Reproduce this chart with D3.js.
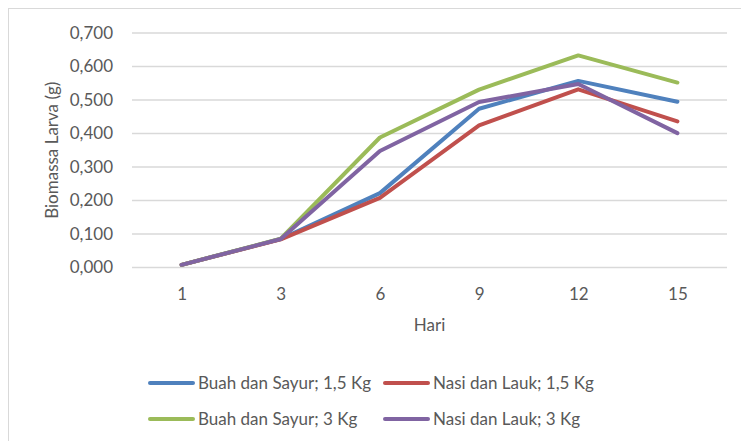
<!DOCTYPE html>
<html>
<head>
<meta charset="utf-8">
<script src="https://cdn.jsdelivr.net/npm/d3@7"></script>
<style>
  body { margin: 0; background: #fff; }
  svg text { font-family: Lato, "Open Sans", sans-serif; fill: #595959; }
</style>
</head>
<body>
<script>
// hari pengamatan
const days = ["1", "3", "6", "9", "12", "15"];

const seriesNames = [
  "Buah dan Sayur; 1,5 Kg",
  "Nasi dan Lauk; 1,5 Kg",
  "Buah dan Sayur; 3 Kg",
  "Nasi dan Lauk; 3 Kg"
];

const buahSayur15 = [0.008, 0.085, 0.222, 0.474, 0.557, 0.495];
const nasiLauk15 = [0.008, 0.084, 0.208, 0.424, 0.532, 0.436];
const buahSayur3 = [0.008, 0.086, 0.388, 0.531, 0.633, 0.552];
const nasiLauk3 = [0.008, 0.085, 0.348, 0.494, 0.548, 0.401];

const yTicks = [0, 0.1, 0.2, 0.3, 0.4, 0.5, 0.6, 0.7];

const colors = ["#4f81bd", "#c0504d", "#9bbb59", "#8064a2"];

const series = [buahSayur15, nasiLauk15, buahSayur3, nasiLauk3].map((values, i) => ({
  name: seriesNames[i],
  color: colors[i],
  values
}));

const width = 741,
  height = 441;
const margin = { top: 33, right: 14, bottom: 174, left: 132 };

const svg = d3
  .select("body")
  .append("svg")
  .attr("width", width)
  .attr("height", height);

// chart border
svg
  .append("rect")
  .attr("x", 8.5)
  .attr("y", 8.5)
  .attr("width", width + 20)
  .attr("height", height + 20)
  .attr("fill", "none")
  .attr("stroke", "#d9d9d9")
  .attr("stroke-width", 1);

const x = d3
  .scalePoint()
  .domain(days)
  .range([margin.left, width - margin.right])
  .padding(0.5);

const y = d3
  .scaleLinear()
  .domain([0, 0.7])
  .range([height - margin.bottom + 0.5, margin.top]);

const fmt = d => d3.format(".3f")(d).replace(".", ",");

// gridlines
svg
  .append("g")
  .selectAll("line")
  .data(yTicks)
  .join("line")
  .attr("x1", margin.left)
  .attr("x2", width - margin.right)
  .attr("y1", d => y(d))
  .attr("y2", d => y(d))
  .attr("stroke", "#d9d9d9")
  .attr("stroke-width", 1.3);

const yAxis = svg
  .append("g")
  .attr("transform", `translate(${margin.left - 19},0)`)
  .call(d3.axisLeft(y).tickValues(yTicks).tickFormat(fmt).tickSize(0));
yAxis.select(".domain").remove();
yAxis.selectAll("text").style("font-size", "17px").attr("x", 0);

const xAxis = svg
  .append("g")
  .attr("transform", `translate(0,${y(0)})`)
  .call(d3.axisBottom(x).tickSize(0));
xAxis.select(".domain").remove();
xAxis.selectAll("text").style("font-size", "17px").attr("y", 0).attr("dy", "1.9em");

svg
  .append("text")
  .attr("x", (margin.left + width - margin.right) / 2)
  .attr("y", 331)
  .attr("text-anchor", "middle")
  .style("font-size", "17px")
  .text("Hari");

svg
  .append("text")
  .attr("transform", `translate(58,${(y(0) + y(0.7)) / 2}) rotate(-90)`)
  .attr("text-anchor", "middle")
  .style("font-size", "17px")
  .text("Biomassa Larva (g)");

const line = d3
  .line()
  .x((d, i) => x(days[i]))
  .y(d => y(d));

svg
  .append("g")
  .selectAll("path")
  .data(series)
  .join("path")
  .attr("d", d => line(d.values))
  .attr("fill", "none")
  .attr("stroke", d => d.color)
  .attr("stroke-width", 4)
  .attr("stroke-linejoin", "round")
  .attr("stroke-linecap", "round");

// legend, two columns
const legendPos = [
  [150, 383],
  [385, 383],
  [150, 419],
  [385, 419]
];
const legend = svg
  .append("g")
  .selectAll("g")
  .data(series)
  .join("g")
  .attr("transform", (d, i) => `translate(${legendPos[i][0]},${legendPos[i][1]})`);

legend
  .append("line")
  .attr("x1", 0)
  .attr("x2", 43)
  .attr("stroke", d => d.color)
  .attr("stroke-width", 4)
  .attr("stroke-linecap", "round");

legend
  .append("text")
  .attr("x", 48)
  .attr("dy", "0.35em")
  .style("font-size", "17px")
  .text(d => d.name);
</script>
</body>
</html>
